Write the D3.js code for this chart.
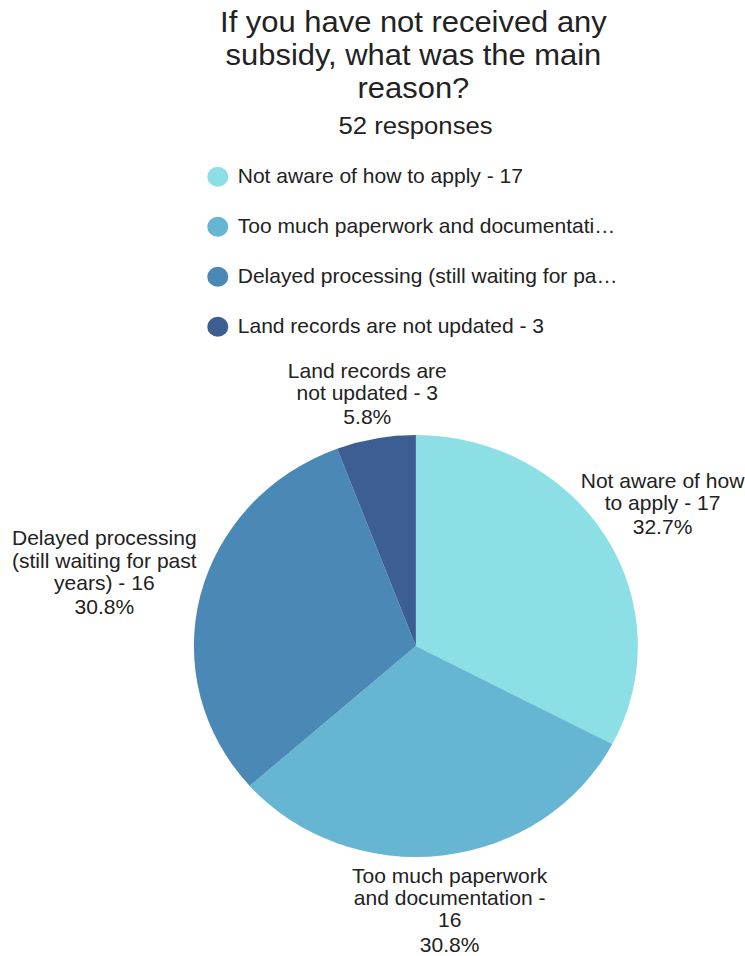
<!DOCTYPE html>
<html>
<head>
<meta charset="utf-8">
<script src="https://cdn.jsdelivr.net/npm/d3@7"></script>
<style>
  html, body { margin: 0; padding: 0; background: #fff; }
  svg { display: block; }
  text { font-family: "Liberation Sans", Arial, sans-serif; fill: #222; }
</style>
</head>
<body>
<div id="chart"></div>
<script>
// Survey question and answers
const titleLines = ["If you have not received any", "subsidy, what was the main", "reason?"];
const categories = [
  "Not aware of how to apply",
  "Too much paperwork and documentation",
  "Delayed processing (still waiting for past years)",
  "Land records are not updated"
];
const counts = [17, 16, 16, 3];
const colors = ["#8ce0e5", "#66b5d2", "#4a89b5", "#3c5e93"];

// Layout
const W = 745, H = 956;
const sx = 1.052;                 // horizontal stretch of the whole drawing
const cx = 395.3, cy = 646, R = 211;
const wrapWidths = [165, 196, 186, 165];   // max line width for each slice label
const labelFont = 20, labelLine = 22.3, pctGap = 24.3, labelGap = 11;

const total = d3.sum(counts);
const items = categories.map((c, i) => ({ name: c, value: counts[i], color: colors[i] }));

const svg = d3.select("#chart").append("svg").attr("width", W).attr("height", H);
const root = svg.append("g").attr("transform", `scale(${sx},1)`);

// Title
const title = root.append("text").attr("text-anchor", "middle").style("font-size", "29.4px");
titleLines.forEach((t, i) => {
  title.append("tspan").attr("x", 393).attr("y", 32 + i * 33).text(t);
});
root.append("text").attr("text-anchor", "middle").attr("x", 395).attr("y", 134)
  .style("font-size", "24.4px").text(`${total} responses`);

// Legend
const legendMax = 363;
const leg = root.append("g");
items.forEach((d, i) => {
  const y = 176.7 + i * 50;
  leg.append("circle").attr("cx", 207).attr("cy", y).attr("r", 10).attr("fill", d.color);
  const t = leg.append("text").attr("x", 226).attr("y", y + 6.5).style("font-size", "20px")
    .text(`${d.name} - ${d.value}`);
  let s = t.text();
  if (t.node().getComputedTextLength() > legendMax) {
    while (s.length && t.node().getComputedTextLength() > legendMax) {
      s = s.slice(0, -1);
      t.text(s.trimEnd() + "…");
    }
  }
});

// Pie
const pie = d3.pie().sort(null).value(d => d.value);
const arcs = pie(items);
const arc = d3.arc().innerRadius(0).outerRadius(R);
const pg = root.append("g").attr("transform", `translate(${cx},${cy})`);
pg.selectAll("path").data(arcs).join("path")
  .attr("d", arc).attr("fill", d => d.data.color);

// Slice labels: wrapped name + count, then percentage, pushed out until clear of the pie
const measure = root.append("text").style("font-size", labelFont + "px").attr("visibility", "hidden");
function textW(s) { measure.text(s); return measure.node().getComputedTextLength(); }
function wrap(s, maxW) {
  const words = s.split(" ");
  const lines = [];
  let cur = "";
  words.forEach(w => {
    const trial = cur ? cur + " " + w : w;
    if (cur && textW(trial) > maxW) { lines.push(cur); cur = w; } else cur = trial;
  });
  if (cur) lines.push(cur);
  return lines;
}
function boxDist(x0, x1, y0, y1) {
  const nx = Math.max(x0, Math.min(0, x1));
  const ny = Math.max(y0, Math.min(0, y1));
  return Math.hypot(nx, ny);
}

const lg = root.append("g").attr("transform", `translate(${cx},${cy})`);
arcs.forEach((a, i) => {
  const lines = wrap(`${a.data.name} - ${a.data.value}`, wrapWidths[i]);
  const pct = (a.data.value / total * 100).toFixed(1) + "%";
  const all = lines.concat([pct]);
  const base = all.map((_, k) => k < lines.length ? k * labelLine : (lines.length - 1) * labelLine + pctGap);
  const widths = all.map(textW);
  const top = base[0] - 0.72 * labelFont, bottom = base[base.length - 1] + 0.05 * labelFont;
  const midOff = (top + bottom) / 2;
  const ang = (a.startAngle + a.endAngle) / 2;
  const ux = Math.sin(ang), uy = -Math.cos(ang);
  let t = R;
  for (; t < R + 300; t += 0.5) {
    const px = ux * t, py = uy * t;
    const ok = all.every((_, k) => {
      const by = py - midOff + base[k];
      return boxDist(px - widths[k] / 2, px + widths[k] / 2, by - 0.72 * labelFont, by + 0.05 * labelFont) >= R + labelGap;
    });
    if (ok) break;
  }
  const px = ux * t, py = uy * t - midOff;
  const txt = lg.append("text").attr("text-anchor", "middle").style("font-size", labelFont + "px");
  all.forEach((s, k) => txt.append("tspan").attr("x", px).attr("y", py + base[k]).text(s));
});
measure.remove();
</script>
</body>
</html>
